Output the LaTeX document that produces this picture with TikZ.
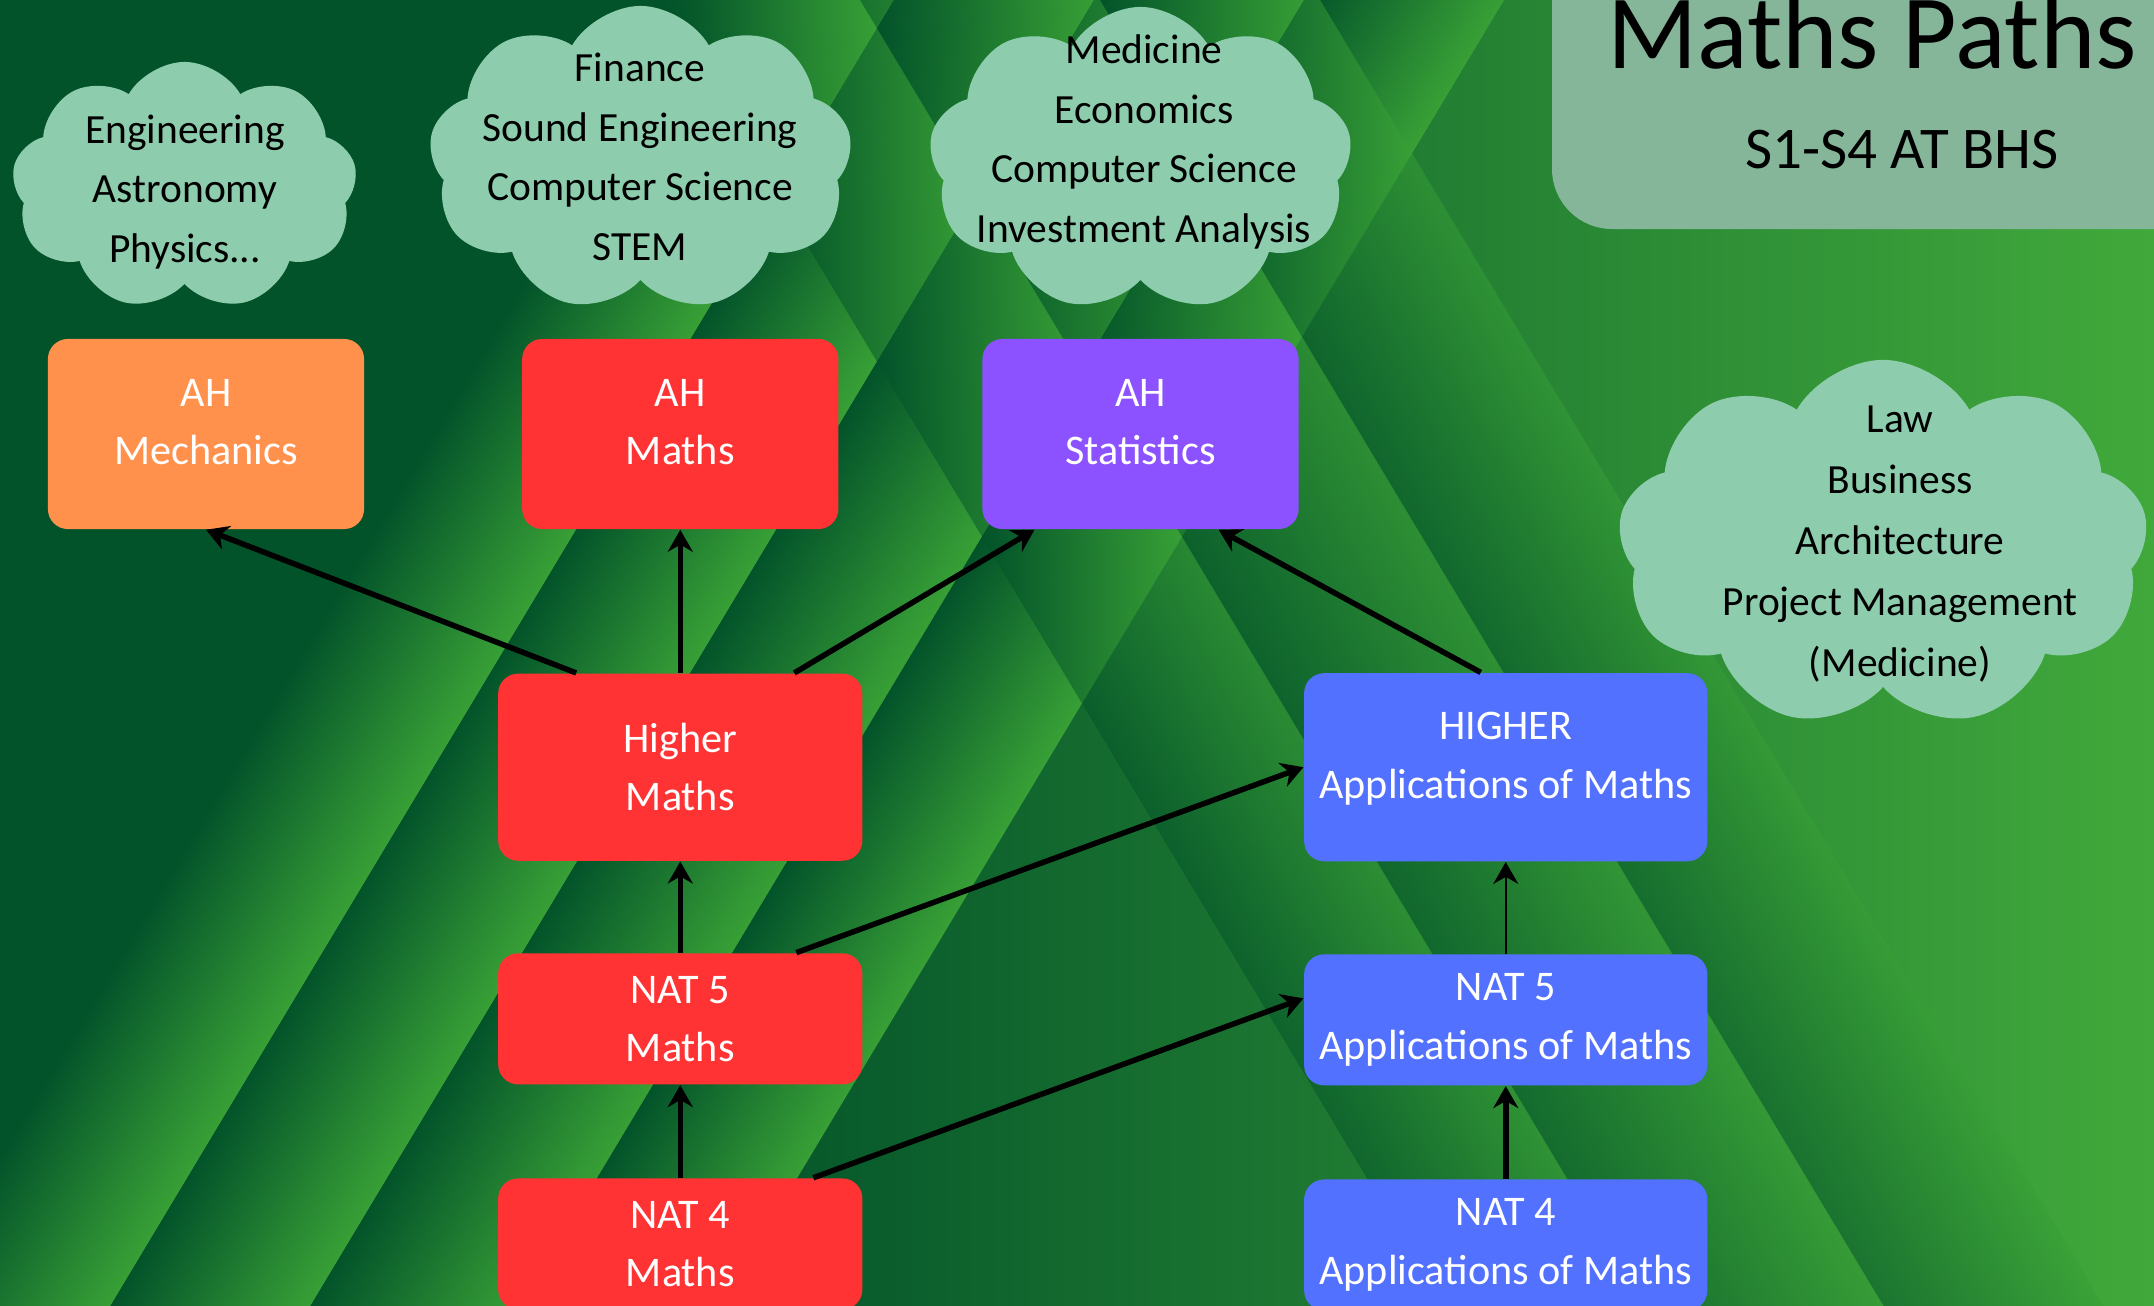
\documentclass[tikz,border=0pt]{standalone}
\usepackage{fontspec}
\setmainfont{Carlito}
\usetikzlibrary{arrows.meta,positioning,shapes.symbols}

\definecolor{bgdark}{HTML}{03532A}
\definecolor{bgright}{HTML}{41A93B}
\definecolor{bandlight}{HTML}{38A036}
\definecolor{cloudfill}{HTML}{8DCDAE}
\definecolor{titlefill}{HTML}{86B699}
\definecolor{mechfill}{HTML}{FF914D}
\definecolor{mathsfill}{HTML}{FF3333}
\definecolor{statsfill}{HTML}{8C52FF}
\definecolor{appsfill}{HTML}{5271FF}

\begin{document}
\begin{tikzpicture}[x=0.01cm,y=-0.01cm,on grid,>={Stealth[length=0.22cm,width=0.25cm]},
  course/.style={rectangle,rounded corners=0.2cm,text=white,align=center,inner sep=0pt,
    font=\fontsize{12}{16.6}\selectfont},
  ahbox/.style={course,minimum width=3.16cm,minimum height=1.9cm,text depth=0.24cm},
  mathsbox/.style={course,fill=mathsfill,minimum width=3.64cm,minimum height=1.31cm},
  appsbox/.style={course,fill=appsfill,minimum width=4.03cm,minimum height=1.31cm},
  bubble/.style={cloud,cloud puffs=9,cloud puff arc=120,cloud ignores aspect,
    fill=cloudfill,inner sep=0pt},
  bubbletext/.style={align=center,font=\fontsize{11.8}{16.9}\selectfont},
  route/.style={->,line width=0.055cm},
  thinroute/.style={->,line width=0.025cm}]
\useasboundingbox (0,0) rectangle (2154,1306);
\clip (0,0) rectangle (2154,1306);

% background
\fill[bgdark] (0,0) rectangle (2154,1306);
\shade[left color=bgdark,right color=bgright] (700,0) rectangle (2154,1306);
\begin{scope}[transform canvas={xslant=0.6}]
  \foreach \a/\b in {-90/110,110/310,310/520,520/720}
    \shade[left color=bgdark,right color=bandlight] (\a+784,-20) rectangle (\b+784,1330);
\end{scope}
\begin{scope}[transform canvas={xslant=-0.6}]
  \foreach \a/\b in {660/860,860/1100,1100/1320}
    \shade[left color=bgdark,right color=bandlight,opacity=0.5] (\a,-20) rectangle (\b,1330);
\end{scope}

% title
\fill[titlefill,rounded corners=0.6cm] (1552,-100) rectangle (2300,229);
\node[anchor=base,font=\fontsize{30}{36}\selectfont] (title) at (1872,68) {Maths Paths};
\node[anchor=base,font=\fontsize{16.8}{20}\selectfont] (subtitle) at (1902,168) {S1-S4 AT BHS};

% careers
\node[bubble,minimum width=3.45cm,minimum height=2.48cm] (jobsmech) at (184.5,186) {};
\node[bubble,minimum width=4.23cm,minimum height=3.06cm] (jobsmaths) at (640.5,159) {};
\node[bubble,minimum width=4.23cm,minimum height=3.05cm] (jobsstats) at (1140.5,159.5) {};
\node[bubble,minimum width=5.3cm,minimum height=3.68cm] (jobsapps) at (1883,544) {};
\node[bubbletext] (jobsmechtext) at (185,192) {Engineering\\Astronomy\\Physics...};
\node[bubbletext] (jobsmathstext) at (640,157) {Finance\\Sound Engineering\\Computer Science\\STEM};
\node[bubbletext] (jobsstatstext) at (1144,142) {Medicine\\Economics\\Computer Science\\Investment Analysis};
\node[bubbletext,font=\fontsize{11.8}{17.4}\selectfont] (jobsappstext) at (1900,544)
  {Law\\Business\\Architecture\\Project Management\\(Medicine)};

% courses
\node[ahbox,fill=mechfill] (ahmech) at (206,434) {AH\\Mechanics};
\node[ahbox,fill=mathsfill] (ahmaths) [right=4.74cm of ahmech] {AH\\Maths};
\node[ahbox,fill=statsfill] (ahstats) [right=4.6cm of ahmaths] {AH\\Statistics};
\node[mathsbox,minimum height=1.87cm] (higher) [below=3.33cm of ahmaths] {Higher\\Maths};
\node[mathsbox] (nat5) [below=2.515cm of higher] {NAT 5\\Maths};
\node[mathsbox] (nat4) [below=2.25cm of nat5] {NAT 4\\Maths};
\node[appsbox,minimum height=1.88cm,text depth=0.24cm] (highapps) [right=8.25cm of higher]
  {HIGHER\\Applications of Maths};
\node[appsbox] (nat5apps) [below=2.525cm of highapps] {NAT 5\\Applications of Maths};
\node[appsbox] (nat4apps) [below=2.25cm of nat5apps] {NAT 4\\Applications of Maths};

% routes
\draw[route] ([xshift=-1.04cm]higher.north) -- (ahmech.south);
\draw[route] (higher.north) -- (ahmaths.south);
\draw[route] ([xshift=1.14cm]higher.north) -- ([xshift=-1.06cm]ahstats.south);
\draw[route] ([xshift=-0.25cm]highapps.north) -- ([xshift=0.78cm]ahstats.south);
\draw[route] (nat5.north) -- (higher.south);
\draw[route] ([xshift=1.16cm]nat5.north) -- (highapps.west);
\draw[route] (nat4.north) -- (nat5.south);
\draw[route] ([xshift=1.33cm]nat4.north) -- ([yshift=0.215cm]nat5apps.west);
\draw[thinroute] (nat5apps.north) -- (highapps.south);
\draw[route] (nat4apps.north) -- (nat5apps.south);
\end{tikzpicture}
\end{document}
